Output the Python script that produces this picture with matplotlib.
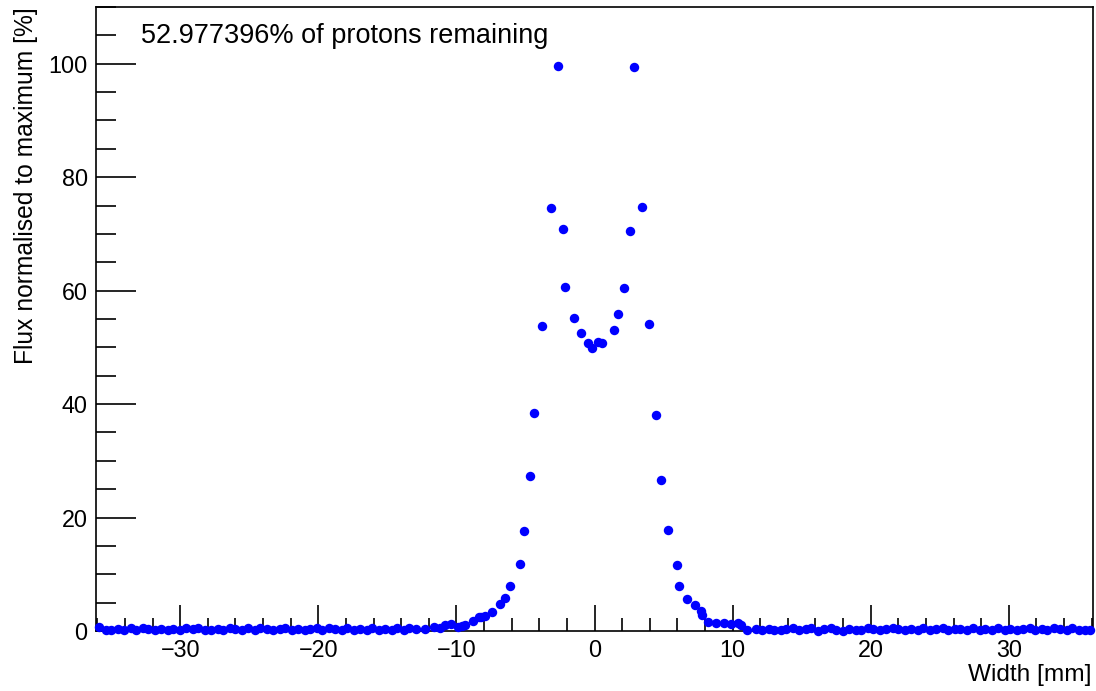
import matplotlib
matplotlib.use("Agg")
import matplotlib.pyplot as plt
from matplotlib.ticker import MultipleLocator

# ---- data ----
x_left_base = [-35.9, -35.4, -35.0, -34.5, -34.1, -33.6, -33.2, -32.7, -32.3, -31.8,
               -31.4, -30.9, -30.5, -30.0, -29.6, -29.1, -28.7, -28.2, -27.8, -27.3,
               -26.9, -26.4, -26.0, -25.5, -25.1, -24.6, -24.2, -23.7, -23.3, -22.8,
               -22.4, -21.9, -21.5, -21.0, -20.6, -20.1, -19.7, -19.2, -18.8, -18.3,
               -17.9, -17.4, -17.0, -16.5, -16.1, -15.6, -15.2, -14.7, -14.3, -13.8,
               -13.4, -12.9]
y_left_base = [0.70, 0.15, 0.25, 0.35, 0.20, 0.55, 0.10, 0.45, 0.30, 0.15,
               0.40, 0.20, 0.35, 0.15, 0.45, 0.30, 0.50, 0.15, 0.25, 0.40,
               0.20, 0.55, 0.30, 0.15, 0.45, 0.20, 0.60, 0.35, 0.15, 0.30,
               0.50, 0.20, 0.40, 0.15, 0.30, 0.45, 0.25, 0.55, 0.35, 0.20,
               0.45, 0.10, 0.30, 0.20, 0.55, 0.15, 0.35, 0.10, 0.45, 0.25,
               0.50, 0.30]

x_core = [-12.3, -11.6, -11.2, -10.8, -10.38, -9.9, -9.57, -9.35, -8.82, -8.36,
          -8.21, -7.92, -7.46, -6.83, -6.50, -6.14, -5.43, -5.10, -4.66, -4.40,
          -3.77, -3.17, -2.68, -2.25, -2.15, -1.50, -0.99, -0.48, -0.17, 0.27,
          0.56, 1.43, 1.69, 2.12, 2.59, 2.83, 3.45, 3.91, 4.47, 4.78,
          5.29, 5.94, 6.11, 6.72, 7.27, 7.68, 7.78, 8.24, 8.82, 9.37,
          9.86, 10.39, 10.63, 11.04, 11.67]
y_core = [0.35, 0.65, 0.55, 1.0, 1.2, 0.7, 0.9, 1.0, 1.7, 2.4,
          2.4, 2.7, 3.3, 4.75, 5.9, 7.9, 11.9, 17.7, 27.3, 38.4,
          53.8, 74.6, 99.6, 70.8, 60.7, 55.2, 52.5, 50.8, 49.9, 51.0,
          50.7, 53.1, 55.8, 60.5, 70.5, 99.5, 74.7, 54.2, 38.0, 26.6,
          17.8, 11.7, 8.0, 5.7, 4.6, 3.5, 2.9, 1.6, 1.46, 1.35,
          1.18, 1.35, 1.06, 0.18, 0.40]

x_right_base = [12.1, 12.6, 13.0, 13.5, 13.9, 14.4, 14.8, 15.3, 15.7, 16.2,
                16.6, 17.1, 17.5, 18.0, 18.4, 18.9, 19.3, 19.8, 20.2, 20.7,
                21.1, 21.6, 22.0, 22.5, 22.9, 23.4, 23.8, 24.3, 24.7, 25.2,
                25.6, 26.1, 26.5, 27.0, 27.4, 27.9, 28.3, 28.8, 29.2, 29.7,
                30.1, 30.6, 31.0, 31.5, 31.9, 32.4, 32.8, 33.3, 33.7, 34.2,
                34.6, 35.1, 35.5, 35.9]
y_right_base = [0.15, 0.35, 0.20, 0.10, 0.30, 0.45, 0.25, 0.40, 0.55, 0.05,
                0.35, 0.50, 0.20, 0.05, 0.40, 0.25, 0.10, 0.45, 0.30, 0.20,
                0.40, 0.50, 0.35, 0.15, 0.40, 0.25, 0.55, 0.20, 0.35, 0.45,
                0.15, 0.40, 0.30, 0.20, 0.45, 0.10, 0.35, 0.25, 0.50, 0.15,
                0.40, 0.20, 0.30, 0.45, 0.25, 0.35, 0.15, 0.50, 0.30, 0.20,
                0.45, 0.10, 0.15, 0.10]

annotation = "52.977396% of protons remaining"
xlabel = "Width [mm]"
ylabel = "Flux normalised to maximum [%]"

# ---- figure ----
plt.rcParams['font.family'] = ['Liberation Sans', 'DejaVu Sans']
fig = plt.figure(figsize=(10.96, 6.91), dpi=100)
ax = fig.add_axes([0.0876, 0.0868, 0.9097, 0.9031])

x_all = x_left_base + x_core + x_right_base
y_all = y_left_base + y_core + y_right_base
ax.plot(x_all, y_all, linestyle='none', marker='o', ms=6.8, color='#0000ff',
        markeredgewidth=0, zorder=3, clip_on=False)

ax.set_xlim(-36.1, 36.1)
ax.set_ylim(0, 110)
ax.xaxis.set_major_locator(MultipleLocator(10))
ax.xaxis.set_minor_locator(MultipleLocator(2))
ax.yaxis.set_major_locator(MultipleLocator(20))
ax.yaxis.set_minor_locator(MultipleLocator(5))

ax.tick_params(axis='both', which='both', direction='in', top=False, right=False,
               width=1.2, labelsize=16.8)
ax.tick_params(axis='x', which='major', length=19, pad=6)
ax.tick_params(axis='x', which='minor', length=9.5)
ax.tick_params(axis='y', which='major', length=29, pad=6)
ax.tick_params(axis='y', which='minor', length=14.5)
for s in ax.spines.values():
    s.set_linewidth(1.2)

ax.set_xticks([-30, -20, -10, 0, 10, 20, 30])
ax.set_xticklabels(['\u221230', '\u221220', '\u221210', '0', '10', '20', '30'])

ax.text(0.045, 0.9535, annotation, transform=ax.transAxes, fontsize=19.5,
        ha='left', va='center')

fig.text(0.9955, 0.023, xlabel, ha='right', va='center', fontsize=17.6)
fig.text(0.024, 0.9899, ylabel, ha='center', va='top', rotation=90, fontsize=17.7)

fig.savefig('out.png', dpi=100)
